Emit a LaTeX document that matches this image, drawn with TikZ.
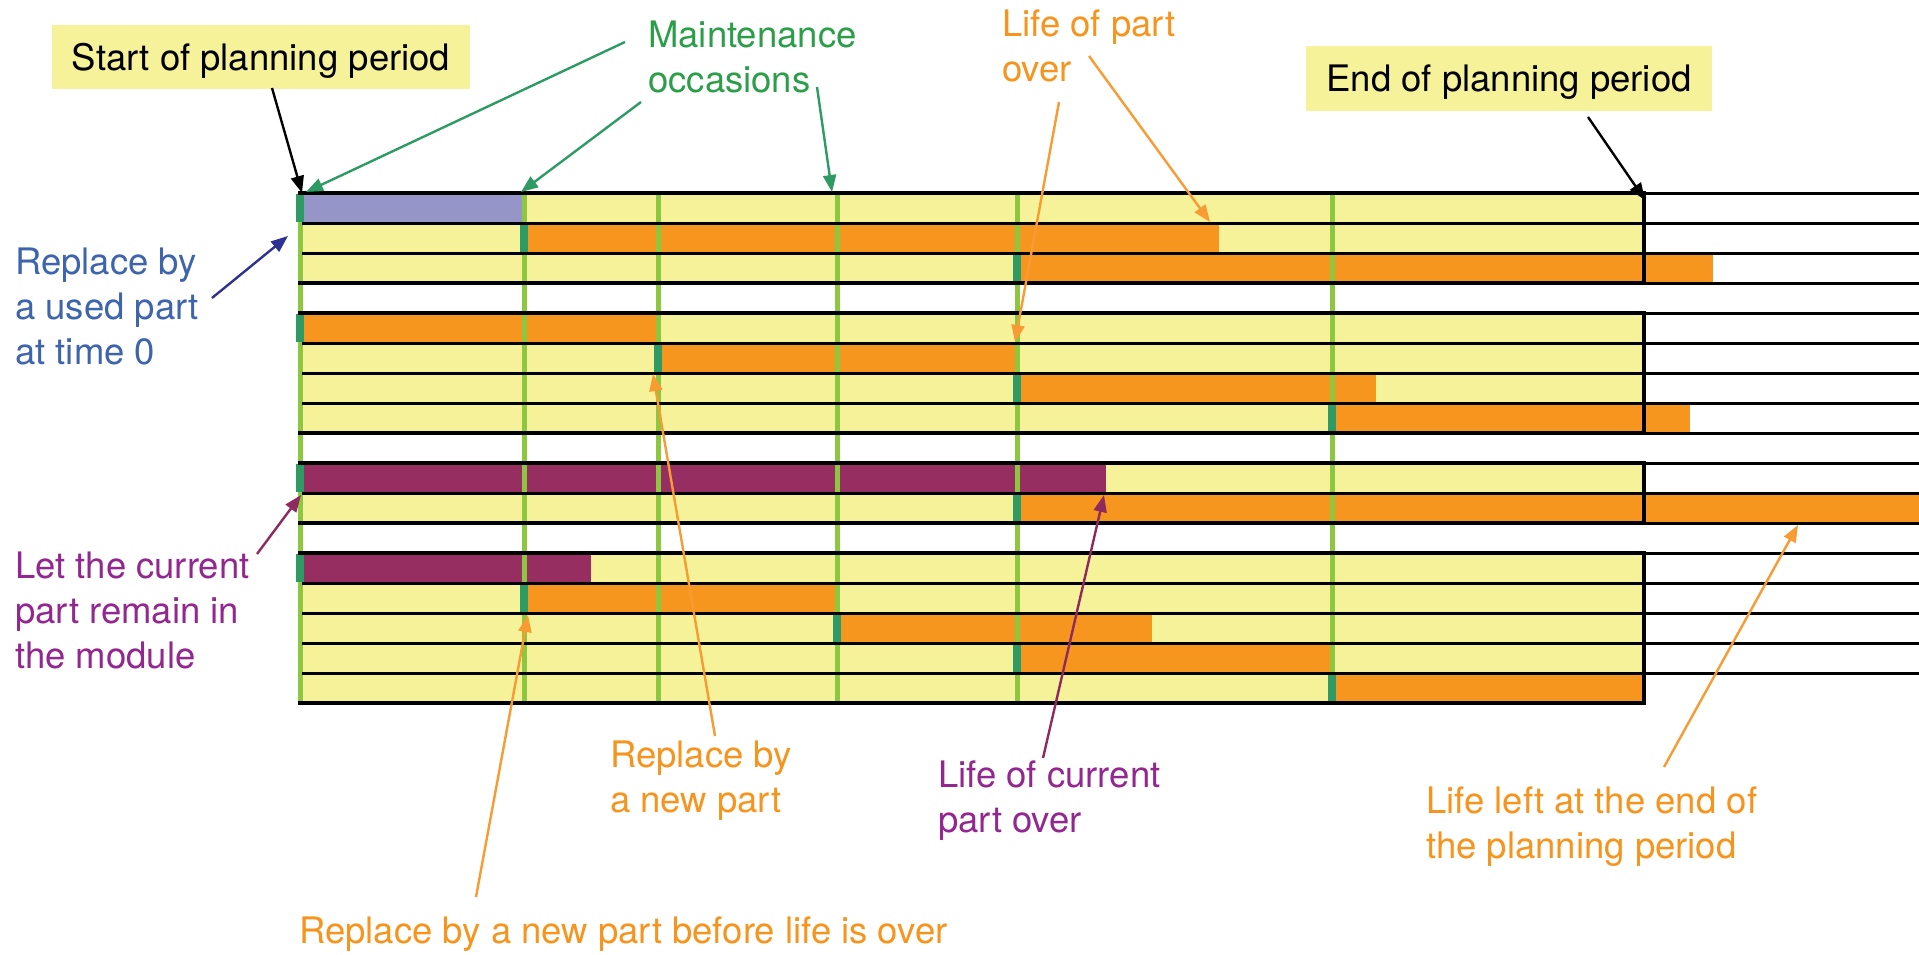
\documentclass[tikz,border=0pt]{standalone}
\usepackage{fontspec}
\setmainfont{TeX Gyre Heros}
\usetikzlibrary{arrows.meta}
\definecolor{rowyel}{RGB}{245,242,154}
\definecolor{barora}{RGB}{247,150,30}
\definecolor{barpur}{RGB}{150,46,98}
\definecolor{barlav}{RGB}{149,149,199}
\definecolor{lgreen}{RGB}{141,198,63}
\definecolor{dgreen}{RGB}{46,155,100}
\definecolor{txtgreen}{RGB}{44,158,74}
\definecolor{arrgreen}{RGB}{46,155,100}
\definecolor{txtora}{RGB}{247,148,29}
\definecolor{arrora}{RGB}{247,155,50}
\definecolor{txtblue}{RGB}{62,100,174}
\definecolor{arrblue}{RGB}{46,49,146}
\definecolor{txtpur}{RGB}{146,39,143}
\definecolor{arrpur}{RGB}{142,42,94}
\begin{document}
\begin{tikzpicture}[x=1pt,y=-1pt,
  lbl/.style={anchor=base west, inner sep=0pt, font=\fontsize{36.5}{45}\selectfont},
  callout/.style={fill=rowyel, inner sep=0pt, text height=31.5pt, text depth=4.5pt, font=\fontsize{36.5}{45}\selectfont},
  conn/.style={line width=2.4pt, -{Triangle[length=17pt,width=13pt]}},
  inner line/.style={line width=3pt, black},
  border line/.style={line width=4.5pt, black},
  occ line/.style={line width=5pt, lgreen},
  tick/.style={line width=7.5pt, dgreen},
]
\useasboundingbox (0,0) rectangle (1919,955);

% ---------- row backgrounds (groups) ----------
\foreach \ya/\yb in {193/283, 313/433, 463/523, 553/703}
  \fill[rowyel] (300,\ya) rectangle (1644,\yb);

% ---------- bars: row top y / x0 / x1 / colour ----------
\foreach \y/\xa/\xb/\c in {
   193/300/524/barlav,
   223/524/1219/barora,
   253/1017/1713/barora,
   313/300/658/barora,
   343/658/1017/barora,
   373/1017/1376/barora,
   403/1332/1690/barora,
   463/300/1106/barpur,
   493/1017/1919/barora,
   553/300/591/barpur,
   583/524/837/barora,
   613/837/1152/barora,
   643/1017/1332/barora,
   673/1332/1644/barora}
  \fill[\c] (\xa,\y) rectangle (\xb,\y+30);

% ---------- maintenance occasions ----------
\foreach \x in {300,524,658,837,1017,1332}
  \draw[occ line] (\x,193) -- (\x,703);

% ---------- replacements (dark ticks) ----------
\foreach \y/\x in {193/300, 223/524, 253/1017, 313/300, 343/658, 373/1017,
   403/1332, 463/300, 493/1017, 553/300, 583/524, 613/837, 643/1017, 673/1332}
  \draw[tick] (\x,\y+1) -- (\x,\y+29);

% ---------- horizontal lines ----------
\foreach \y in {193,223,253,283,313,343,373,403,433,463,493,523,553,583,613,643,673}
  \draw[inner line] (302,\y) -- (1919,\y);

% ---------- group borders ----------
\foreach \ya/\yb in {193/283, 313/433, 463/523, 553/703}
  \draw[border line] (298,\ya) -- (1644,\ya) -- (1644,\yb) -- (298,\yb);

% ---------- labels ----------
\node[callout, minimum width=418pt, minimum height=64pt] (startbox) at (261,57) {Start of planning period};
\node[callout, minimum width=406pt, minimum height=65pt] (endbox) at (1509,78.5) {End of planning period};

\node[lbl, text=txtgreen] (maint) at (648,48)
  {\begin{tabular}[t]{@{}l@{}}Maintenance\\occasions\end{tabular}};
\node[lbl, text=txtora] (lifepart) at (1002,37)
  {\begin{tabular}[t]{@{}l@{}}Life of part\\over\end{tabular}};
\node[lbl, text=txtblue] (used) at (15,274)
  {\begin{tabular}[t]{@{}l@{}}Replace by\\a used part\\at time 0\end{tabular}};
\node[lbl, text=txtpur] (remain) at (15,578)
  {\begin{tabular}[t]{@{}l@{}}Let the current\\part remain in\\the module\end{tabular}};
\node[lbl, text=txtora] (newpart) at (610,767)
  {\begin{tabular}[t]{@{}l@{}}Replace by\\a new part\end{tabular}};
\node[lbl, text=txtpur] (lifecur) at (938,787)
  {\begin{tabular}[t]{@{}l@{}}Life of current\\part over\end{tabular}};
\node[lbl, text=txtora] (lifeleft) at (1426,813)
  {\begin{tabular}[t]{@{}l@{}}Life left at the end of\\the planning period\end{tabular}};
\node[lbl, text=txtora] (before) at (299,943) {Replace by a new part before life is over};

% ---------- connector end points ----------
\coordinate (sA) at (272,88);   \coordinate (tA) at (302,193);
\coordinate (sM1) at (625,42);  \coordinate (tM1) at (306,192);
\coordinate (sM2) at (641,102); \coordinate (tM2) at (521,192);
\coordinate (sM3) at (817,87);  \coordinate (tM3) at (832,192);
\coordinate (sL1) at (1089,56); \coordinate (tL1) at (1210,222);
\coordinate (sL2) at (1059,102);\coordinate (tL2) at (1015,342);
\coordinate (sE) at (1588,117); \coordinate (tE) at (1645,200);
\coordinate (sU) at (212,298);  \coordinate (tU) at (288,236);
\coordinate (sR) at (257,554);  \coordinate (tR) at (301,495);
\coordinate (sN) at (715,736);  \coordinate (tN) at (653,374);
\coordinate (sB) at (476,897);  \coordinate (tB) at (528,615);
\coordinate (sC) at (1043,758); \coordinate (tC) at (1104,495);
\coordinate (sF) at (1664,767); \coordinate (tF) at (1798,525);

% ---------- connectors ----------
\draw[conn, black] (sA) -- (tA);
\draw[conn, arrgreen] (sM1) -- (tM1);
\draw[conn, arrgreen] (sM2) -- (tM2);
\draw[conn, arrgreen] (sM3) -- (tM3);
\draw[conn, arrora] (sL1) -- (tL1);
\draw[conn, arrora] (sL2) -- (tL2);
\draw[conn, black] (sE) -- (tE);
\draw[conn, arrblue] (sU) -- (tU);
\draw[conn, arrpur] (sR) -- (tR);
\draw[conn, arrora] (sN) -- (tN);
\draw[conn, arrora] (sB) -- (tB);
\draw[conn, arrpur] (sC) -- (tC);
\draw[conn, arrora] (sF) -- (tF);
\end{tikzpicture}
\end{document}
